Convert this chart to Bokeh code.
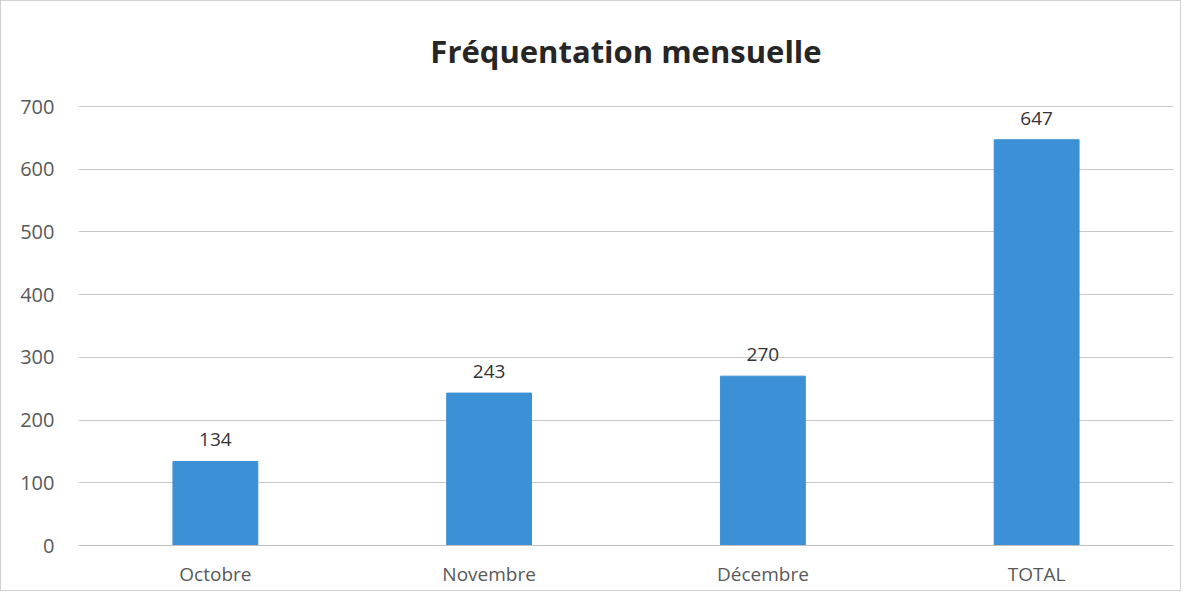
from bokeh.plotting import figure
from bokeh.models import ColumnDataSource, FixedTicker, LabelSet, Label, Range1d
from bokeh.core.properties import value
from bokeh.embed import file_html
from bokeh.resources import INLINE

title_text = "Fréquentation mensuelle"
categories = ["Octobre", "Novembre", "Décembre", "TOTAL"]
values = [134, 243, 270, 647]
labels = [str(v) for v in values]
y_ticks = [0, 100, 200, 300, 400, 500, 600, 700]

# layout (pixels)
H, BOTTOM = 591, 47
FRAME_H = H - BOTTOM
TOP_GAP = 105          # pixels from canvas top to the 700 gridline
TITLE_Y = 49           # pixels from canvas top to title centre
y_max = y_ticks[-1] * FRAME_H / (FRAME_H - TOP_GAP)
title_y = y_max * (FRAME_H - TITLE_Y) / FRAME_H

src = ColumnDataSource(dict(cat=categories, val=values, lab=labels))

p = figure(x_range=categories, y_range=Range1d(0, y_max), width=1181, height=H,
           output_backend="svg", toolbar_location=None,
           min_border_left=77, min_border_right=9, min_border_top=0, min_border_bottom=BOTTOM)
p.styles = {"border": "1px solid #d0d0d0"}

p.vbar(x="cat", top="val", width=0.31, source=src, fill_color="#3c90d6", line_color="#3c90d6")

p.add_layout(LabelSet(x="cat", y="val", text="lab", source=src, text_align="center",
                      text_baseline="bottom", y_offset=15, text_font=value("Open Sans"),
                      text_font_size="19px", text_color="#333333"))

p.add_layout(Label(x=len(categories) / 2, y=title_y, text=title_text,
                   text_align="center", text_baseline="middle", text_font="Open Sans",
                   text_font_style="bold", text_font_size="31px", text_color="#262626"))

p.yaxis.ticker = FixedTicker(ticks=y_ticks)
p.yaxis.axis_line_color = None
p.yaxis.major_tick_line_color = None
p.yaxis.minor_tick_line_color = None
p.yaxis.major_label_text_font = "Open Sans"
p.yaxis.major_label_text_font_size = "20px"
p.yaxis.major_label_text_color = "#595959"
p.yaxis.major_label_standoff = 18

p.xaxis.axis_line_color = "#bfbfbf"
p.xaxis.major_tick_line_color = None
p.xaxis.minor_tick_line_color = None
p.xaxis.major_label_text_font = "Open Sans"
p.xaxis.major_label_text_font_size = "19px"
p.xaxis.major_label_text_color = "#595959"
p.xaxis.major_label_standoff = 9

p.xgrid.grid_line_color = None
p.ygrid.grid_line_color = "#c8c8c8"
p.outline_line_color = None
p.x_range.range_padding = 0

open("out.html", "w").write(file_html(p, INLINE))
